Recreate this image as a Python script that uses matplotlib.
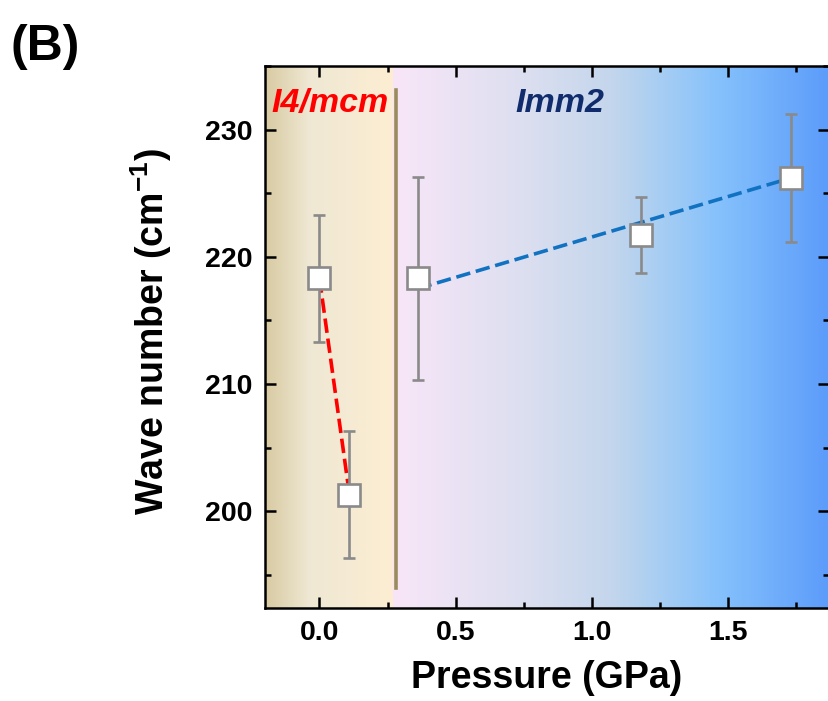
import numpy as np
import matplotlib
matplotlib.use("Agg")
import matplotlib.pyplot as plt
from matplotlib.colors import LinearSegmentedColormap
from matplotlib.ticker import MultipleLocator

plt.rcParams['font.family'] = ['Liberation Sans', 'DejaVu Sans']
plt.rcParams['font.weight'] = 'bold'
plt.rcParams['mathtext.fontset'] = 'custom'
plt.rcParams['mathtext.rm'] = 'Liberation Sans:bold'
plt.rcParams['mathtext.bf'] = 'Liberation Sans:bold'
plt.rcParams['mathtext.default'] = 'bf'

# ---- data ----
pressure = [0.0, 0.11, 0.36, 1.18, 1.73]
wavenumber = [218.3, 201.3, 218.3, 221.7, 226.2]
wn_err = [5.0, 5.0, 8.0, 3.0, 5.0]

red_fit_x = [0.0, 0.11]
red_fit_y = [218.3, 201.3]
blue_fit_x = [0.36, 1.73]
blue_fit_y = [217.5, 226.2]

boundary_x = 0.28
boundary_y = [194.0, 233.1]
phase_split = 0.27

xlim = (-0.2, 1.87)
ylim = (192.4, 235.0)
x_ticks = [0.0, 0.5, 1.0, 1.5]
y_ticks = [200, 210, 220, 230]

W, H = 829, 701
fig = plt.figure(figsize=(W / 100, H / 100), dpi=100)
ax = fig.add_axes([265 / W, 1 - 608 / H, (829 - 265) / W, (608 - 66) / H])

# background gradients
grad = np.linspace(0, 1, 256).reshape(1, -1)
cmap_left = LinearSegmentedColormap.from_list(
    'l', [(0, '#d8caa2'), (0.35, '#efe8d4'), (1.0, '#fdeed2')])
cmap_right = LinearSegmentedColormap.from_list(
    'r', [(0, '#f8e6f8'), (0.3, '#dcdff0'), (0.5, '#c4d6ec'),
          (0.62, '#a6cdf3'), (0.75, '#85c1fc'), (1.0, '#5c9cfa')])
ax.imshow(grad, extent=[xlim[0], phase_split, ylim[0], ylim[1]], aspect='auto',
          cmap=cmap_left, zorder=0, interpolation='bicubic')
ax.imshow(grad, extent=[phase_split, xlim[1], ylim[0], ylim[1]], aspect='auto',
          cmap=cmap_right, zorder=0, interpolation='bicubic')

# phase boundary
ax.plot([boundary_x, boundary_x], boundary_y, color='#9b8c5e', lw=2.6, zorder=2)

# fit lines
ax.plot(red_fit_x, red_fit_y, color='#ff0000', lw=2.6, ls=(0, (4, 1.6)), zorder=3)
ax.plot(blue_fit_x, blue_fit_y, color='#1172c2', lw=2.6, ls=(0, (4, 1.6)), zorder=3)

# data with error bars
ax.errorbar(pressure, wavenumber, yerr=wn_err, fmt='s', ms=15.2, mfc='white',
            mec='#8a8a8a', mew=1.9, ecolor='#8a8a8a', elinewidth=1.9,
            capsize=4.6, capthick=1.9, zorder=4)

# phase labels
ax.text(-0.176, 231.35, 'I4/mcm', color='#ff0000', fontsize=24.5, fontstyle='italic',
        fontweight='bold', va='baseline', ha='left', zorder=5)
ax.text(0.72, 231.35, 'Imm2', color='#102c6c', fontsize=24.5, fontstyle='italic',
        fontweight='bold', va='baseline', ha='left', zorder=5)

ax.set_xlim(*xlim)
ax.set_ylim(*ylim)
ax.set_xticks(x_ticks)
ax.set_yticks(y_ticks)
ax.xaxis.set_minor_locator(MultipleLocator(0.25))
ax.yaxis.set_minor_locator(MultipleLocator(5))
ax.set_xticklabels([f'{v:.1f}' for v in x_ticks])
ax.set_yticklabels([str(v) for v in y_ticks])
ax.tick_params(which='both', direction='in', top=True, right=True, width=1.8,
               labelsize=20.5, colors='black')
ax.tick_params(which='major', length=8, pad=9)
ax.tick_params(which='minor', length=4.5)
for s in ax.spines.values():
    s.set_linewidth(1.8)

ax.set_xlabel('Pressure (GPa)', fontsize=27, fontweight='bold', labelpad=10)
ax.set_ylabel('Wave number (cm$^{-1}$)', fontsize=27, fontweight='bold')
ax.yaxis.set_label_coords(-0.162, 0.51)

fig.text(11 / W, 1 - 60 / H, '(B)', fontsize=36, fontweight='bold', ha='left',
         va='baseline')

fig.savefig('out.png', dpi=100)
